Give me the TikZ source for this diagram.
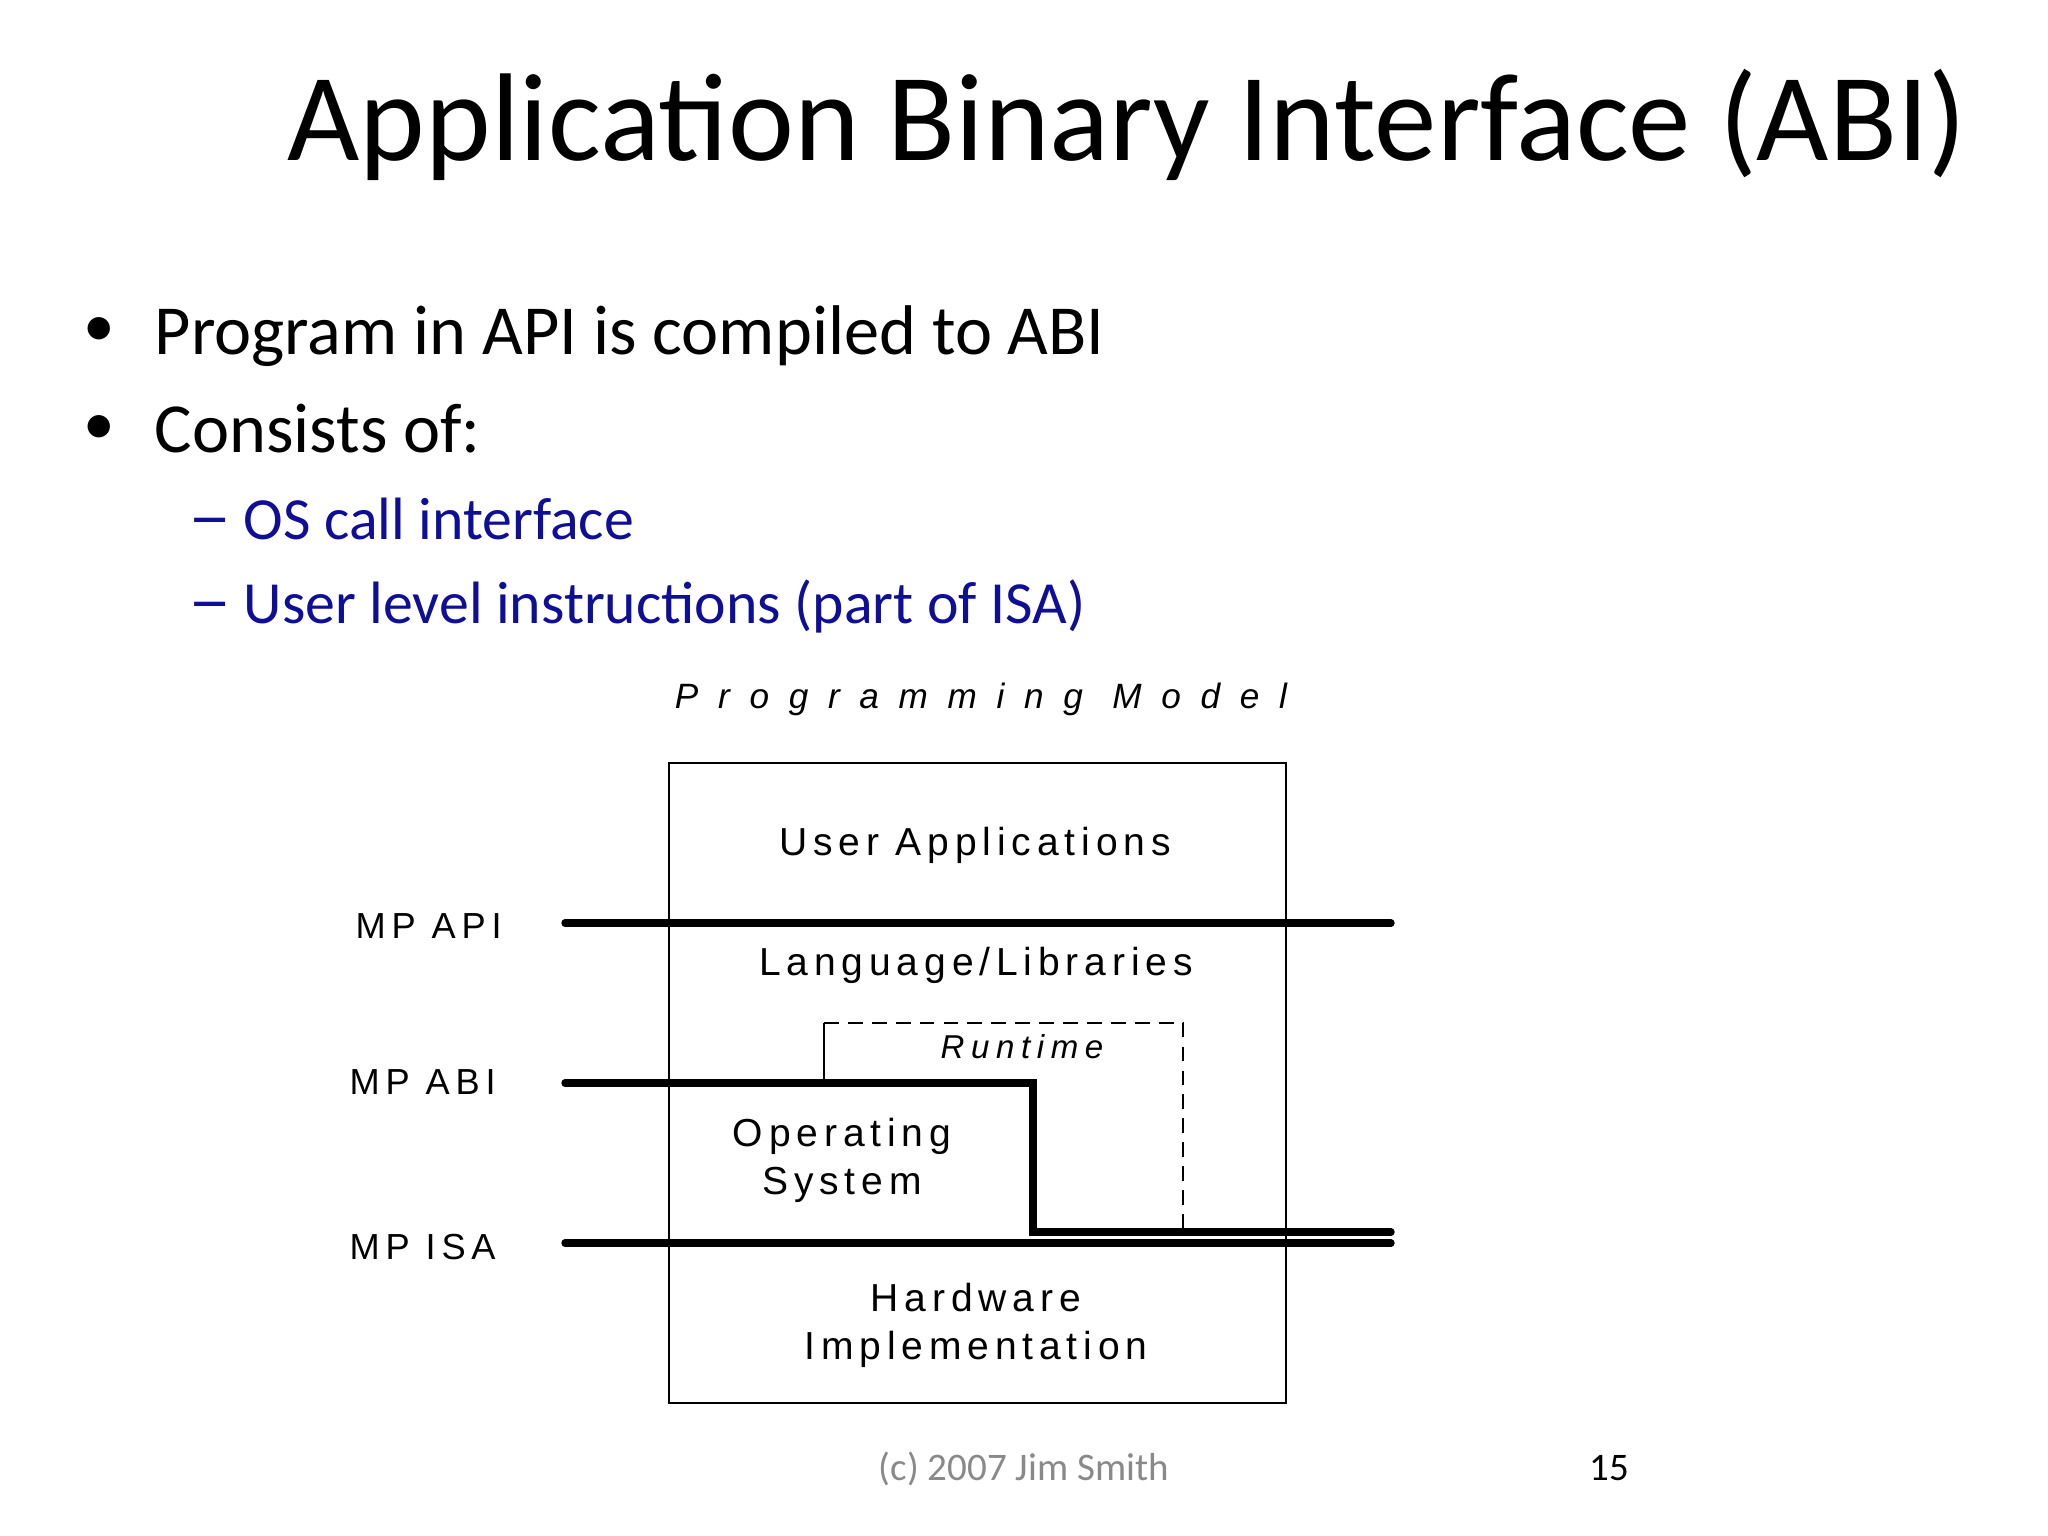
\documentclass[tikz,border=0pt]{standalone}
\usepackage{fontspec}
\setmainfont{Carlito}
\newfontfamily\boxfont[LetterSpace=15]{Liberation Sans}
\newfontfamily\lblfont[LetterSpace=16]{Liberation Sans}
\newfontfamily\runfont[LetterSpace=20]{Liberation Sans}
\newfontfamily\progfont[LetterSpace=56]{Liberation Sans}
\definecolor{subblue}{RGB}{14,14,150}
\definecolor{footgray}{RGB}{137,137,137}
\begin{document}
\begin{tikzpicture}[x=0.01cm,y=-0.01cm,
  title/.style={font=\fontsize{35.5}{40}\selectfont, anchor=base west, inner sep=0},
  bul/.style={font=\fontsize{20}{24}\selectfont, anchor=base west, inner sep=0},
  bdot/.style={font=\fontsize{18}{20}\selectfont, anchor=base, inner sep=0},
  subbul/.style={font=\fontsize{17}{20}\selectfont, anchor=base west, inner sep=0, text=subblue},
  boxtxt/.style={font=\boxfont\fontsize{11.1}{13.6}\selectfont, align=center, anchor=base, inner sep=0},
  lbl/.style={font=\lblfont\fontsize{10.3}{12}\selectfont, anchor=base west, inner sep=0},
  level/.style={line width=2.1pt, line cap=round},
  thinline/.style={line width=0.5pt},
  dashline/.style={line width=0.5pt, dash pattern=on 4.2pt off 2.6pt},
  foot/.style={font=\fontsize{11.1}{13}\selectfont, inner sep=0}]
\useasboundingbox (0,0) rectangle (2048,1536);
\fill[white] (0,0) rectangle (2048,1536);

% title and bullets
\node[title] (title) at (287,160) {Application Binary Interface (ABI)};
\node[bdot] (b1dot) at (99,346) {•};
\node[bul] (b1) at (154,354) {Program in API is compiled to ABI};
\node[bdot] (b2dot) at (99,444) {•};
\node[bul] (b2) at (154,452) {Consists of:};
\node[subbul] (s1dash) at (188,539) {\scalebox{1.45}[1.15]{–}};
\node[subbul] (s1) at (243,539) {OS call interface};
\node[subbul] (s2dash) at (188,623) {\scalebox{1.45}[1.15]{–}};
\node[subbul] (s2) at (243,623) {User level instructions (part of ISA)};

% diagram
\node[font=\progfont\itshape\fontsize{10}{12}\selectfont, anchor=base, inner sep=0] (prog) at (981,708) {Programming Model};
\node[draw, thinline, minimum width=6.17cm, minimum height=6.40cm, inner sep=0] (box) at (977.5,1083) {};

\node[boxtxt] (ua) at (975,855) {User Applications};
\node[boxtxt] (ll) at (976,975) {Language/Libraries};
\node[font=\runfont\itshape\fontsize{9.4}{11}\selectfont, anchor=base, inner sep=0] (rt) at (1022,1058) {Runtime};
\node[boxtxt] (os) at (842,1194) {Operating\\System};
\node[boxtxt] (hw) at (976,1359) {Hardware\\Implementation};

\node[lbl] (lapi) at (355,938) {MP API};
\node[lbl] (labi) at (349,1094) {MP ABI};
\node[lbl] (lisa) at (349,1259) {MP ISA};

\coordinate (apiL) at (565,923);
\coordinate (apiR) at (1391,923);
\coordinate (abiL) at (565,1083);
\coordinate (abiS) at (1033,1083);
\coordinate (abiD) at (1033,1232);
\coordinate (abiR) at (1391,1232);
\coordinate (isaL) at (565,1243);
\coordinate (isaR) at (1391,1243);
\coordinate (rtBL) at (824,1083);
\coordinate (rtTL) at (824,1023);
\coordinate (rtTR) at (1183,1023);
\coordinate (rtBR) at (1183,1232);

\draw[thinline] (rtBL) -- (rtTL);
\draw[dashline] (rtTL) -- (rtTR) -- (rtBR);

\draw[level] (apiL) -- (apiR);
\draw[level] (abiL) -- (abiS) -- (abiD) -- (abiR);
\draw[level] (isaL) -- (isaR);

% footer
\node[foot, text=footgray, anchor=base west] (copy) at (878,1480) {(c) 2007 Jim Smith};
\node[foot, anchor=base east] (pg) at (1630,1480) {15};
\end{tikzpicture}
\end{document}
